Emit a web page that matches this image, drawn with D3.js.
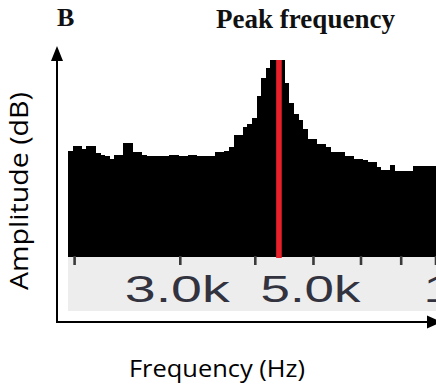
<!DOCTYPE html>
<html>
<head>
<meta charset="utf-8">
<script src="https://cdn.jsdelivr.net/npm/d3@7"></script>
<style>
  html, body { margin: 0; padding: 0; background: #fff; }
  svg { display: block; }
</style>
</head>
<body>
<svg id="chart" width="436" height="387"></svg>
<script>
// ---- data ----
const freqDomain = [1950, 8000];            // Hz, visible span of the spectrum
const ampDomain = [-66, 0];                  // dB, floor .. peak
const ampDb = [
  -30.5, -28.8, -28.8, -29.8, -28.8, -28.8, -31.2, -31.8, -32.2, -33.2,
  -31.8, -31.8, -27.8, -27.8, -30.8, -30.8, -31.8, -32.3, -32.3, -32.3,
  -32.3, -32.3, -31.7, -31.7, -32.3, -32.3, -31.8, -31.8, -32.3, -32.3,
  -32.3, -32.3, -30.8, -30.7, -30.5, -29.1, -25.1, -25.1, -22.4, -21.4,
  -19.4, -12.1, -6.0, -2.7, 0, 0, 0, -7.7, -14.4, -18.1,
  -20.1, -23.1, -26.5, -26.5, -28.1, -28.1, -29.0, -30.8, -30.8, -30.8,
  -32.2, -32.2, -33.2, -33.2, -33.5, -34.2, -34.2, -35.7, -37.0, -37.0,
  -35.3, -37.2, -37.2, -37.2, -37.2, -35.5, -35.5, -35.5, -35.5, -35.5
];
const tickFreqs = [2000, 3000, 4000, 5000, 6000, 7000, 8000, 10000];
const labelFreqs = [3000, 5000, 10000];
const tickLabels = ["3.0k", "5.0k", "10.0k"];
const labelWidths = [105, 100, 136];
const peakFreq = 4380;
const titleText = "Peak frequency";
const panelLetter = "B";
const xTitle = "Frequency (Hz)";
const yTitle = "Amplitude (dB)";

// ---- layout ----
const svg = d3.select("#chart");
const plotLeft = 68, plotRight = 436, plotTop = 60, plotBottom = 257;

const x = d3.scaleLog().domain(freqDomain).range([plotLeft, plotRight]);
const y = d3.scaleLinear().domain(ampDomain).range([plotBottom, plotTop]);
const bins = d3.scaleBand().domain(d3.range(ampDb.length))
  .range([x(freqDomain[0]), x(freqDomain[1])]).paddingInner(0).paddingOuter(0);

// gray label band
svg.append("rect")
  .attr("x", plotLeft).attr("y", plotBottom)
  .attr("width", plotRight - plotLeft).attr("height", 54)
  .attr("fill", "#ededed");

// spectrum bars
svg.append("g").selectAll("rect").data(ampDb).join("rect")
  .attr("x", (d, i) => bins(i))
  .attr("width", bins.bandwidth() + 0.6)
  .attr("y", d => y(d))
  .attr("height", d => y(ampDomain[0]) - y(d))
  .attr("fill", "#000")
  .attr("shape-rendering", "crispEdges");

// tick marks
svg.append("g").selectAll("line").data(tickFreqs).join("line")
  .attr("x1", d => x(d)).attr("x2", d => x(d))
  .attr("y1", plotBottom - 1).attr("y2", plotBottom + 8)
  .attr("stroke", "#3a3a3a").attr("stroke-width", 2.6);

// tick labels
svg.append("g").selectAll("text").data(labelFreqs).join("text")
  .attr("x", d => x(d) - 3)
  .attr("y", 302)
  .attr("text-anchor", "middle")
  .attr("font-family", "Liberation Sans, Arial, sans-serif")
  .attr("font-size", 36)
  .attr("fill", "#33333f")
  .attr("textLength", (d, i) => labelWidths[i])
  .attr("lengthAdjust", "spacingAndGlyphs")
  .text((d, i) => tickLabels[i]);

// peak frequency marker
svg.append("rect")
  .attr("x", x(peakFreq) - 2.8).attr("width", 5.6)
  .attr("y", y(0)).attr("height", y(ampDomain[0]) + 1 - y(0))
  .attr("fill", "#e8202a");

// axis arrows
const axisX = 57, axisY = 322;
svg.append("path")
  .attr("d", `M${axisX},${axisY} L${axisX},60`)
  .attr("stroke", "#000").attr("stroke-width", 2).attr("fill", "none");
svg.append("path")
  .attr("d", `M${axisX - 6},61 L${axisX},46 L${axisX + 6},61 Z`)
  .attr("fill", "#000");
svg.append("path")
  .attr("d", `M${axisX - 1},${axisY} L428,${axisY}`)
  .attr("stroke", "#000").attr("stroke-width", 2).attr("fill", "none");
svg.append("path")
  .attr("d", `M427,${axisY - 6.5} L442,${axisY} L427,${axisY + 6.5} Z`)
  .attr("fill", "#000");

// titles
svg.append("text")
  .attr("x", 57).attr("y", 26)
  .attr("font-family", "Liberation Serif, Times New Roman, serif")
  .attr("font-weight", "bold").attr("font-size", 26)
  .attr("fill", "#111")
  .text(panelLetter);
svg.append("text")
  .attr("x", 216).attr("y", 28)
  .attr("font-family", "Liberation Serif, Times New Roman, serif")
  .attr("font-weight", "bold").attr("font-size", 27)
  .attr("fill", "#111")
  .attr("textLength", 179)
  .text(titleText);
svg.append("text")
  .attr("x", 217).attr("y", 377)
  .attr("text-anchor", "middle")
  .attr("font-family", "Open Sans, sans-serif")
  .attr("font-size", 24)
  .attr("fill", "#000")
  .attr("textLength", 176)
  .attr("lengthAdjust", "spacingAndGlyphs")
  .text(xTitle);
svg.append("text")
  .attr("transform", "translate(28,191) rotate(-90)")
  .attr("text-anchor", "middle")
  .attr("font-family", "Open Sans, sans-serif")
  .attr("font-size", 25)
  .attr("fill", "#000")
  .attr("textLength", 198)
  .attr("lengthAdjust", "spacingAndGlyphs")
  .text(yTitle);
</script>
</body>
</html>
